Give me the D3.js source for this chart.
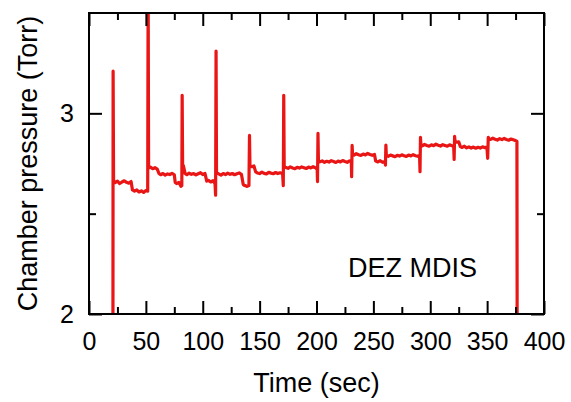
<!DOCTYPE html>
<html lang="en">
<head>
<meta charset="UTF-8">
<title>Chamber pressure - DEZ MDIS</title>
<script src="https://d3js.org/d3.v7.min.js"></script>
<style>
  body { margin: 0; background: #fff; }
  text { font-family: "Liberation Sans", Arial, sans-serif; fill: #000; }
</style>
</head>
<body>
<script>
// time (sec) and chamber pressure (Torr)
const timeSec = [
  21.0, 21.2, 21.6, 23, 25, 27, 29, 31, 33, 35, 37, 38.2, 40, 42, 44, 46, 48, 50, 51.6,
  52.0, 52.4, 54, 56, 58, 60, 61.5, 63, 65, 67, 69, 71, 73, 75, 75.8, 77, 79, 80.8, 81.6,
  81.9, 82.3, 83, 84.5, 86, 88, 90, 92, 94, 96, 98, 100, 102, 103.5, 105, 107, 109, 110.8, 111.3,
  111.7, 112.1, 114, 116, 118, 120, 122, 124, 126, 128, 130, 132, 134, 135.6, 137, 139, 140.6,
  141.1, 141.5, 143, 145, 146.5, 148, 150, 152, 154, 156, 158, 160, 162, 164, 166, 168, 170.2, 170.8,
  171.2, 171.6, 173, 175, 177, 179, 181, 183, 185, 187, 189, 191, 193, 195, 197, 199, 200.6, 200.9,
  201.3, 201.7, 203, 205, 207, 209, 211, 213, 215, 217, 219, 221, 223, 225, 227, 229, 230.6, 230.9,
  231.3, 231.7, 233, 235, 237, 239, 241, 243, 245, 247, 249, 251, 252, 254, 256, 258, 260.2, 260.6,
  261.0, 261.4, 263, 265, 267, 269, 271, 273, 275, 277, 279, 281, 283, 285, 287, 289, 290.6, 291.0,
  291.4, 291.8, 293, 295, 297, 299, 301, 303, 305, 307, 309, 311, 313, 315, 317, 319, 320.6, 321.0,
  321.4, 321.8, 323, 325, 326.5, 328, 330, 332, 334, 336, 338, 340, 342, 344, 346, 348, 349.8, 350.5,
  351.0, 351.4, 353, 355, 357, 359, 361, 363, 365, 367, 369, 371, 373, 375, 376.2, 376.5
];
const pressureTorr = [
  1.50, 3.21, 2.665, 2.655, 2.662, 2.650, 2.658, 2.664, 2.656, 2.652, 2.660, 2.618, 2.612, 2.618, 2.608, 2.614, 2.606, 2.615, 2.612,
  3.65, 2.728, 2.732, 2.724, 2.729, 2.722, 2.700, 2.694, 2.700, 2.692, 2.698, 2.695, 2.701, 2.694, 2.655, 2.650, 2.656, 2.636, 2.640,
  3.09, 2.745, 2.738, 2.700, 2.694, 2.702, 2.696, 2.700, 2.693, 2.699, 2.704, 2.695, 2.700, 2.662, 2.666, 2.658, 2.664, 2.650, 2.592,
  3.31, 2.705, 2.698, 2.692, 2.700, 2.695, 2.702, 2.696, 2.700, 2.694, 2.699, 2.703, 2.696, 2.645, 2.640, 2.636, 2.640,
  2.89, 2.740, 2.734, 2.738, 2.708, 2.703, 2.700, 2.707, 2.701, 2.698, 2.706, 2.702, 2.699, 2.705, 2.700, 2.704, 2.700, 2.640,
  3.09, 2.735, 2.730, 2.726, 2.733, 2.728, 2.724, 2.731, 2.727, 2.733, 2.729, 2.725, 2.732, 2.728, 2.734, 2.729, 2.722, 2.660,
  2.90, 2.762, 2.758, 2.763, 2.756, 2.761, 2.757, 2.764, 2.760, 2.755, 2.762, 2.758, 2.765, 2.760, 2.756, 2.763, 2.758, 2.684,
  2.84, 2.796, 2.792, 2.799, 2.794, 2.790, 2.797, 2.793, 2.800, 2.795, 2.791, 2.795, 2.762, 2.758, 2.764, 2.756, 2.760, 2.742,
  2.842, 2.790, 2.786, 2.792, 2.788, 2.784, 2.791, 2.787, 2.793, 2.789, 2.785, 2.792, 2.788, 2.794, 2.789, 2.786, 2.790, 2.709,
  2.880, 2.842, 2.838, 2.845, 2.840, 2.836, 2.843, 2.839, 2.846, 2.841, 2.837, 2.844, 2.840, 2.836, 2.843, 2.839, 2.836, 2.770,
  2.885, 2.860, 2.856, 2.858, 2.834, 2.830, 2.836, 2.828, 2.833, 2.827, 2.832, 2.826, 2.831, 2.827, 2.833, 2.829, 2.832, 2.776,
  2.880, 2.874, 2.870, 2.876, 2.871, 2.867, 2.874, 2.869, 2.875, 2.870, 2.866, 2.872, 2.868, 2.864, 2.860, 1.50
];

const xMajor = [0, 50, 100, 150, 200, 250, 300, 350, 400];
const xMinor = [25, 75, 125, 175, 225, 275, 325, 375];
const yMajor = [2, 3];
const yMinor = [2.5];

const W = 571, H = 402;
const m = { left: 89, right: 544, top: 13, bottom: 314 };

const x = d3.scaleLinear().domain([0, 400]).range([m.left, m.right]);
const y = d3.scaleLinear().domain([2, 3.5]).range([m.bottom, m.top]);

const svg = d3.select('body').append('svg').attr('width', W).attr('height', H);

svg.append('clipPath').attr('id', 'plot')
  .append('rect').attr('x', m.left).attr('y', m.top)
  .attr('width', m.right - m.left).attr('height', m.bottom - m.top);

// trace
const pts = timeSec.map((t, i) => [t, pressureTorr[i]]);
svg.append('path')
  .datum(pts)
  .attr('clip-path', 'url(#plot)')
  .attr('fill', 'none')
  .attr('stroke', '#ea1515')
  .attr('stroke-width', 3.2)
  .attr('stroke-linejoin', 'round')
  .attr('d', d3.line().x(d => x(d[0])).y(d => y(d[1])));

// axes: ticks point inward on all four sides
function tidy(g) {
  g.select('.domain').remove();
  g.selectAll('line').attr('stroke', '#000').attr('stroke-width', 2);
  g.selectAll('text').attr('font-size', 25).style('font-family', '"Liberation Sans", Arial, sans-serif').attr('fill', '#000');
}

svg.append('g').attr('transform', `translate(0,${m.bottom})`)
  .call(d3.axisBottom(x).tickValues(xMajor).tickSize(-13).tickPadding(18).tickFormat(d3.format('d'))).call(tidy);
svg.append('g').attr('transform', `translate(0,${m.bottom})`)
  .call(d3.axisBottom(x).tickValues(xMinor).tickSize(-7).tickFormat('')).call(tidy);
svg.append('g').attr('transform', `translate(0,${m.top})`)
  .call(d3.axisTop(x).tickValues(xMajor).tickSize(-13).tickFormat('')).call(tidy);
svg.append('g').attr('transform', `translate(0,${m.top})`)
  .call(d3.axisTop(x).tickValues(xMinor).tickSize(-7).tickFormat('')).call(tidy);

svg.append('g').attr('transform', `translate(${m.left},0)`)
  .call(d3.axisLeft(y).tickValues(yMajor).tickSize(-13).tickPadding(15).tickFormat(d3.format('d'))).call(tidy);
svg.append('g').attr('transform', `translate(${m.left},0)`)
  .call(d3.axisLeft(y).tickValues(yMinor).tickSize(-7).tickFormat('')).call(tidy);
svg.append('g').attr('transform', `translate(${m.right},0)`)
  .call(d3.axisRight(y).tickValues(yMajor).tickSize(-13).tickFormat('')).call(tidy);
svg.append('g').attr('transform', `translate(${m.right},0)`)
  .call(d3.axisRight(y).tickValues(yMinor).tickSize(-7).tickFormat('')).call(tidy);

// frame
svg.append('rect')
  .attr('x', m.left).attr('y', m.top).attr('width', m.right - m.left).attr('height', m.bottom - m.top)
  .attr('fill', 'none').attr('stroke', '#000').attr('stroke-width', 2);

// titles
svg.append('text')
  .attr('x', (m.left + m.right) / 2).attr('y', 392)
  .attr('text-anchor', 'middle').attr('font-size', 27)
  .text('Time (sec)');

svg.append('text')
  .attr('transform', `translate(37,${(m.top + m.bottom) / 2}) rotate(-90)`)
  .attr('text-anchor', 'middle').attr('font-size', 27)
  .text('Chamber pressure (Torr)');

svg.append('text')
  .attr('x', 348).attr('y', 277)
  .attr('font-size', 27)
  .text('DEZ MDIS');
</script>
</body>
</html>
